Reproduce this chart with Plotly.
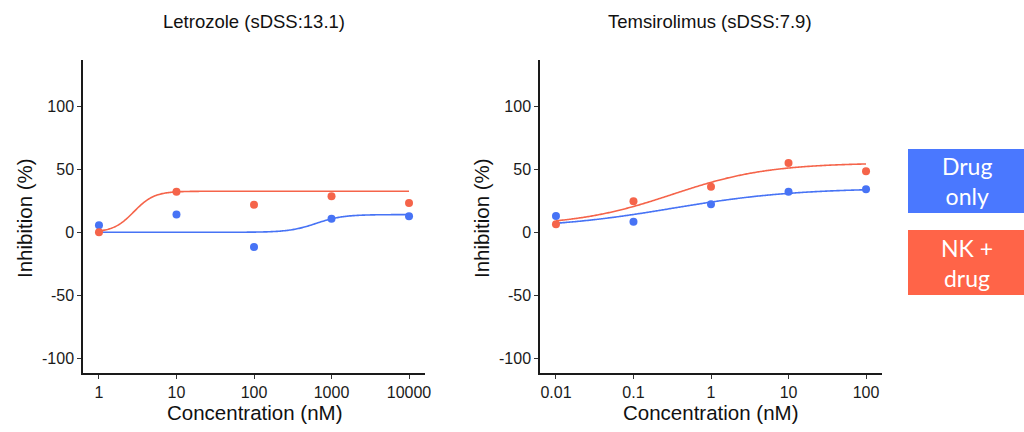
import numpy as np
import plotly.graph_objects as go

W, H = 1024, 432

# Drug panels: concentrations (nM) and measured inhibition (%)
letro_conc = [1, 10, 100, 1000, 10000]
letro_drug_only = [5.5, 14.0, -11.6, 10.8, 12.7]
letro_nk_drug = [0.0, 32.2, 21.9, 28.5, 23.2]

temsi_conc = [0.01, 0.1, 1, 10, 100]
temsi_drug_only = [12.9, 8.4, 22.2, 32.2, 34.1]
temsi_nk_drug = [6.3, 24.5, 36.1, 54.9, 48.3]

# Fitted 4-parameter logistic: bottom, top, log10(IC50), hill slope
letro_fit_drug_only = [0.0, 14.0, 2.8, 2.5]
letro_fit_nk_drug = [0.0, 32.5, 0.45, 3.3]
temsi_fit_drug_only = [3.0, 35.0, -0.5, 0.55]
temsi_fit_nk_drug = [5.0, 55.0, -0.5, 0.7]

panel_titles = ["Letrozole (sDSS:13.1)", "Temsirolimus (sDSS:7.9)"]
y_ticks = [-100, -50, 0, 50, 100]
letro_ticks = ["1", "10", "100", "1000", "10000"]
temsi_ticks = ["0.01", "0.1", "1", "10", "100"]
legend_labels = ["Drug<br>only", "NK +<br>drug"]

BLUE = "#4773F5"
RED = "#F5644A"
BOX_BLUE = "#4A78FF"
BOX_RED = "#FF6448"


def logistic(logx, params):
    bottom, top, logic50, hill = params
    return bottom + (top - bottom) / (1 + 10 ** ((logic50 - logx) * hill))


fig = go.Figure()

panels = [
    ("x", "y", letro_conc, letro_drug_only, letro_nk_drug,
     letro_fit_drug_only, letro_fit_nk_drug),
    ("x2", "y2", temsi_conc, temsi_drug_only, temsi_nk_drug,
     temsi_fit_drug_only, temsi_fit_nk_drug),
]

for xa, ya, conc, d_only, nk, fit_d, fit_nk in panels:
    lo, hi = np.log10(conc[0]), np.log10(conc[-1])
    grid = np.linspace(lo, hi, 300)
    for fit, color in ((fit_d, BLUE), (fit_nk, RED)):
        fig.add_trace(go.Scatter(
            x=10 ** grid, y=logistic(grid, fit), mode="lines",
            line=dict(color=color, width=1.6, simplify=False),
            xaxis=xa, yaxis=ya, showlegend=False, hoverinfo="skip"))
    for vals, color in ((d_only, BLUE), (nk, RED)):
        fig.add_trace(go.Scatter(
            x=conc, y=vals, mode="markers",
            marker=dict(color=color, size=8), xaxis=xa, yaxis=ya,
            showlegend=False))

axis_common = dict(
    showline=True, linecolor="#1a1a1a", linewidth=1.5,
    ticks="outside", ticklen=4, tickwidth=1.2, tickcolor="#333",
    showgrid=False, zeroline=False, mirror=False, automargin=False,
    tickfont=dict(family="Liberation Sans, Arial", size=16, color="#1a1a1a"),
)

y_dom = [1 - 373 / H, 1 - 60 / H]
fig.update_layout(
    width=W, height=H, autosize=False, margin=dict(l=0, r=0, t=0, b=0),
    paper_bgcolor="white", plot_bgcolor="white",
    xaxis=dict(axis_common, type="log", domain=[83 / W, 425 / W],
               range=[-0.206, 4.206], tickvals=letro_conc,
               ticktext=letro_ticks, anchor="y"),
    yaxis=dict(axis_common, domain=y_dom, range=[-111.5, 136.5],
               tickvals=y_ticks, ticktext=[str(v) for v in y_ticks],
               anchor="x"),
    xaxis2=dict(axis_common, type="log", domain=[540 / W, 882 / W],
                range=[-2.206, 2.206], tickvals=temsi_conc,
                ticktext=temsi_ticks, anchor="y2"),
    yaxis2=dict(axis_common, domain=y_dom, range=[-111.5, 136.5],
                tickvals=y_ticks, ticktext=[str(v) for v in y_ticks],
                anchor="x2"),
)

text_font = dict(family="Liberation Sans, Arial", color="#111")
annotations = []
for title, cx, yax_x in ((panel_titles[0], 254, 24), (panel_titles[1], 710, 481)):
    annotations.append(dict(text=title, x=cx / W, y=1 - 21 / H, xref="paper",
                            yref="paper", showarrow=False,
                            font=dict(text_font, size=18.5),
                            xanchor="center", yanchor="middle"))
    annotations.append(dict(text="Concentration (nM)", x=cx / W, y=1 - 412 / H,
                            xref="paper", yref="paper", showarrow=False,
                            font=dict(text_font, size=20.5),
                            xanchor="center", yanchor="middle"))
    annotations.append(dict(text="Inhibition (%)", x=yax_x / W,
                            y=(1 - 218 / H), xref="paper", yref="paper",
                            showarrow=False, textangle=-90,
                            font=dict(text_font, size=20.5),
                            xanchor="center", yanchor="middle"))

shapes = []
for label, color, y0, y1 in ((legend_labels[0], BOX_BLUE, 149, 213),
                             (legend_labels[1], BOX_RED, 230, 295)):
    shapes.append(dict(type="rect", xref="paper", yref="paper",
                       x0=908 / W, x1=1.0, y0=1 - y1 / H, y1=1 - y0 / H,
                       fillcolor=color, line=dict(width=0), layer="above"))
    annotations.append(dict(text=label, x=967 / W, y=1 - (y0 + y1) / 2 / H,
                            xref="paper", yref="paper", showarrow=False,
                            font=dict(family="Lato", size=23, color="white"),
                            xanchor="center", yanchor="middle", align="center"))

fig.update_layout(annotations=annotations, shapes=shapes)
fig.write_html("out.html", config={"responsive": False})
